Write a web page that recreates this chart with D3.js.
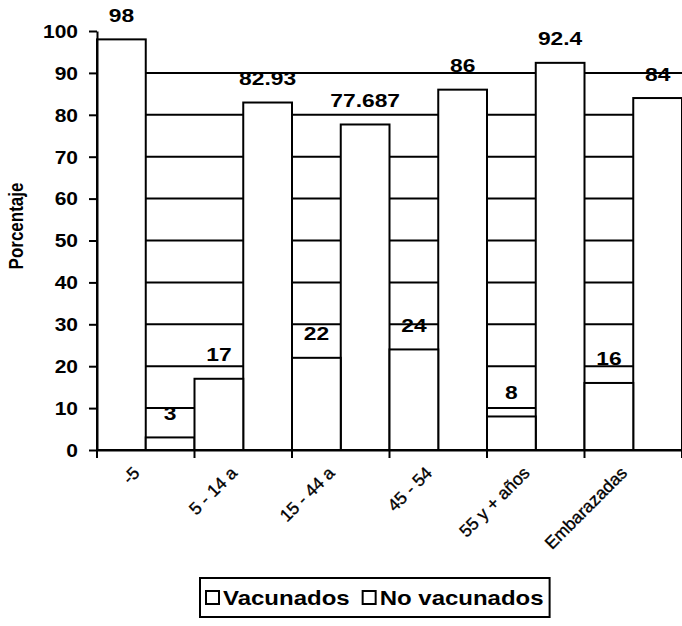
<!DOCTYPE html>
<html><head><meta charset="utf-8">
<script src="https://cdn.jsdelivr.net/npm/d3@7/dist/d3.min.js"></script>
<style>body{margin:0;background:#fff} svg{display:block}</style>
</head><body><svg id="chart" width="682" height="626"></svg>
<script>
// ---- data ----
const categories = ["-5", "5 - 14 a", "15 - 44 a", "45 - 54", "55 y + años", "Embarazadas"];
const vacunados = [98, 82.93, 77.687, 86, 92.4, 84];
const noVacunados = [3, 17, 22, 24, 8, 16];
// which series is drawn as the left bar of each group (as in the source chart)
const leftSeries = ["Vacunados", "No vacunados", "No vacunados", "No vacunados", "No vacunados", "No vacunados"];
const seriesNames = ["Vacunados", "No vacunados"];
const yTicks = [0, 10, 20, 30, 40, 50, 60, 70, 80, 90, 100];
const gridValues = [10, 20, 30, 40, 50, 60, 70, 80, 90];
const yTitle = "Porcentaje";

const seriesValues = {"Vacunados": vacunados, "No vacunados": noVacunados};
const FONT = "'Liberation Sans', Arial, sans-serif";
const STRETCH = 1.2;

const svg = d3.select("#chart");
const x = d3.scaleBand().domain(categories).range([97, 682]).padding(0);
const xs = d3.scaleBand().domain(["left", "right"]).range([0, x.bandwidth()]);
const y = d3.scaleLinear().domain([0, 100]).range([450, 31]);

// gridlines
svg.append("g").selectAll("line").data(gridValues).join("line")
  .attr("x1", x.range()[0]).attr("x2", x.range()[1])
  .attr("y1", d => y(d)).attr("y2", d => y(d))
  .attr("stroke", "#000").attr("stroke-width", 2);

// bars
const barData = [];
categories.forEach((c, i) => {
  seriesNames.forEach(s => {
    barData.push({cat: c, series: s, value: seriesValues[s][i], pos: leftSeries[i] === s ? "left" : "right"});
  });
});
svg.append("g").selectAll("rect").data(barData).join("rect")
  .attr("x", d => x(d.cat) + xs(d.pos))
  .attr("width", xs.bandwidth())
  .attr("y", d => y(d.value))
  .attr("height", d => y(0) - y(d.value))
  .attr("fill", "#fff").attr("stroke", "#000").attr("stroke-width", 2);

// value labels
svg.append("g").selectAll("text").data(barData).join("text")
  .attr("transform", d => `translate(${x(d.cat) + xs(d.pos) + xs.bandwidth() / 2},${y(d.value) - 17.5}) scale(${STRETCH},1)`)
  .attr("text-anchor", "middle")
  .style("font-family", FONT).style("font-weight", "bold").style("font-size", "19px")
  .text(d => String(d.value));

// y axis
const ya = svg.append("g").attr("transform", "translate(97,0)")
  .call(d3.axisLeft(y).tickValues(yTicks).tickSize(8).tickSizeOuter(0));
ya.select(".domain").attr("stroke", "#000").attr("stroke-width", 2);
ya.selectAll(".tick line").attr("stroke", "#000").attr("stroke-width", 2);
ya.selectAll(".tick text").attr("fill", "#000")
  .attr("x", 0).attr("dy", "0.36em")
  .attr("transform", `translate(-19,0) scale(${STRETCH},1)`)
  .style("font-family", FONT).style("font-weight", "bold").style("font-size", "17.5px");

// x axis
const xa = svg.append("g").attr("transform", "translate(0,450)")
  .call(d3.axisBottom(x).tickSize(0).tickSizeOuter(0));
xa.select(".domain").attr("stroke", "#000").attr("stroke-width", 2);
xa.selectAll(".tick text").attr("fill", "#000")
  .attr("stroke", "#000").attr("stroke-width", 0.35)
  .attr("y", 0).attr("dy", 0)
  .attr("transform", "translate(-5,24) rotate(-45)")
  .style("text-anchor", "end")
  .style("font-family", FONT).style("font-size", "17.5px");
const boundaries = categories.map(c => x(c)).concat([x.range()[1]]);
xa.append("g").selectAll("line").data(boundaries).join("line")
  .attr("x1", d => d).attr("x2", d => d).attr("y1", 0).attr("y2", 8)
  .attr("stroke", "#000").attr("stroke-width", 2);

// y title
svg.append("text").attr("transform", `translate(23,226) scale(${STRETCH},1) rotate(-90)`)
  .attr("text-anchor", "middle")
  .style("font-family", FONT).style("font-weight", "bold").style("font-size", "17px")
  .text(yTitle);

// legend
const lg = svg.append("g").attr("transform", "translate(200,578)");
const legendItems = lg.append("g");
let cx = 6;
seriesNames.forEach((s, i) => {
  const g = legendItems.append("g").attr("transform", `translate(${cx},0)`);
  g.append("rect").attr("x", 0).attr("y", 13).attr("width", 13).attr("height", 13)
    .attr("fill", "#fff").attr("stroke", "#000").attr("stroke-width", 2);
  const t = g.append("text").attr("transform", `translate(17,27) scale(${STRETCH},1)`)
    .style("font-family", FONT).style("font-weight", "bold").style("font-size", "20px")
    .text(s);
  cx += 17 + t.node().getComputedTextLength() * STRETCH + 13;
});
lg.insert("rect", ":first-child").attr("x", 0).attr("y", 0)
  .attr("width", cx - 13 + 6).attr("height", 39)
  .attr("fill", "#fff").attr("stroke", "#000").attr("stroke-width", 2);
</script></body></html>
